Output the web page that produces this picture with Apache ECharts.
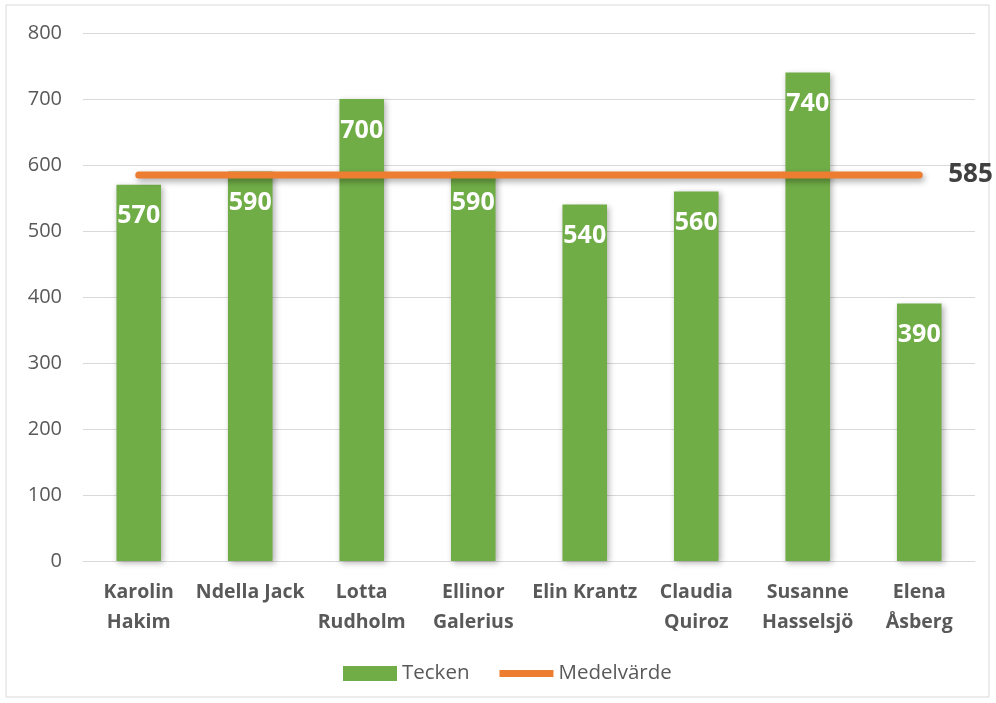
<!DOCTYPE html>
<html><head><meta charset="utf-8">
<script src="https://cdn.jsdelivr.net/npm/echarts@6/dist/echarts.min.js"></script>
<style>html,body{margin:0;padding:0;background:#fff}#c{width:996px;height:703px}</style>
</head><body><div id="c"></div>
<script>
const categories = ["Karolin\nHakim","Ndella Jack","Lotta\nRudholm","Ellinor\nGalerius","Elin Krantz","Claudia\nQuiroz","Susanne\nHasselsjö","Elena\nÅsberg"];
const tecken = [570,590,700,590,540,560,740,390];
const medelvarde = [585,585,585,585,585,585,585,585];
const yTicks = {min:0,max:800,interval:100};

const chart = echarts.init(document.getElementById('c'));
const font = "Open Sans, Noto Sans, sans-serif";
chart.setOption({
  animation:false,
  textStyle:{fontFamily:font},
  graphic:[{type:'rect',shape:{x:6,y:5,width:983,height:692},style:{fill:'none',stroke:'#d9d9d9',lineWidth:1}}],
  grid:{left:83,right:21,top:33,bottom:142,containLabel:false},
  legend:{bottom:14,left:338,itemGap:30,itemWidth:54,itemHeight:15,
    textStyle:{fontSize:20.5,color:'#595959',fontFamily:font},
    data:[{name:'Tecken',icon:'rect'},{name:'Medelvärde',icon:'path://M0,0 L10,0 L10,1.3 L0,1.3Z'}]},
  xAxis:{type:'category',data:categories,
    axisLine:{lineStyle:{color:'#d9d9d9',width:1}},axisTick:{show:false},
    axisLabel:{fontSize:19.5,fontWeight:'bold',color:'#595959',lineHeight:30,margin:16,interval:0,fontFamily:font}},
  yAxis:{type:'value',min:yTicks.min,max:yTicks.max,interval:yTicks.interval,
    axisLine:{show:false},axisTick:{show:false},
    splitLine:{lineStyle:{color:'#d9d9d9',width:1}},
    axisLabel:{fontSize:20,color:'#595959',margin:21,fontFamily:font}},
  series:[
    {name:'Tecken',type:'bar',data:tecken,barWidth:'40%',
     itemStyle:{color:'#70ad47',shadowColor:'rgba(0,0,0,0.3)',shadowBlur:6,shadowOffsetX:2,shadowOffsetY:2},
     label:{show:true,position:'insideTop',distance:19,color:'#fff',fontWeight:'bold',fontSize:25,fontFamily:font}},
    {name:'Medelvärde',type:'line',data:medelvarde,symbol:'none',z:5,
     lineStyle:{color:'#ed7d31',width:7,cap:'round',shadowColor:'rgba(0,0,0,0.35)',shadowBlur:6,shadowOffsetX:2,shadowOffsetY:3},
     itemStyle:{color:'#ed7d31'},
     endLabel:{show:true,formatter:'{c}',color:'#404040',fontWeight:'bold',fontSize:26,distance:29,fontFamily:font}}
  ]
});
</script></body></html>
